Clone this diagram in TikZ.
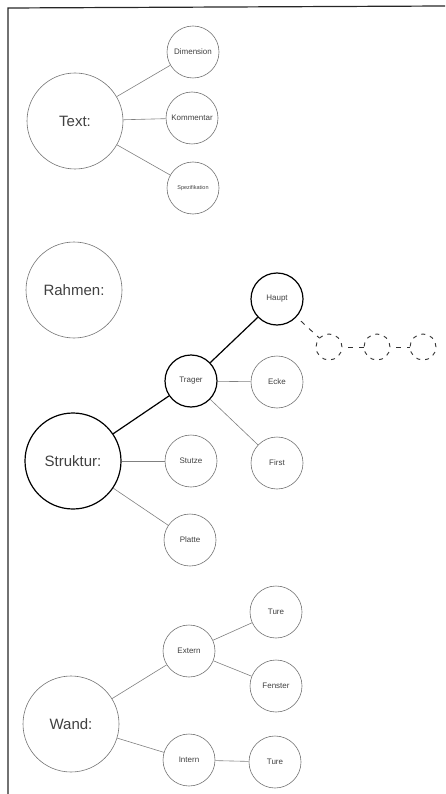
\documentclass[tikz,border=0pt]{standalone}
\usepackage{fontspec}
\setmainfont{Liberation Sans}

\begin{document}
\begin{tikzpicture}[x=1pt, y=-1pt,
  every node/.style={circle, draw=black!55, line width=0.6pt, inner sep=0pt, text=black!75},
  big/.style={minimum size=96pt, font=\fontsize{15}{18}\selectfont},
  small/.style={minimum size=52pt, font=\fontsize{8}{9}\selectfont},
  tiny/.style={minimum size=52pt, font=\fontsize{5.5}{7}\selectfont},
  bold/.style={draw=black, line width=1.2pt},
  ghost/.style={minimum size=26pt, draw=black!80, line width=0.9pt, dash pattern=on 4pt off 5pt},
  link/.style={draw=black!50, line width=0.6pt},
  boldlink/.style={draw=black, line width=1.2pt},
  ghostlink/.style={draw=black!80, line width=0.9pt, dash pattern=on 5pt off 6pt, dash phase=-6pt}]
\useasboundingbox (0,0) rectangle (445,794);

% frame
\draw[line width=1.2pt, black!85] (445,6) -- (8,8) -- (8,794);

% Text
\node[big]   (text)  at (75,121) {Text:};
\node[small] (dim)   at (193,52) {Dimension};
\node[small] (komm)  at (192,118) {Kommentar};
\node[tiny]  (spez)  at (193,188) {Spezifikation};
\draw[link] (text) -- (dim);
\draw[link] (text) -- (komm);
\draw[link] (text) -- (spez);

% Rahmen
\node[big] (rahmen) at (74,290) {Rahmen:};

% Struktur
\node[big, bold]   (strukt) at (73,461) {Struktur:};
\node[small, bold] (trager) at (191,381) {Trager};
\node[small, bold] (haupt)  at (277,299) {Haupt};
\node[small]       (ecke)   at (277,382) {Ecke};
\node[small]       (first)  at (277,463) {First};
\node[small]       (stutze) at (191,461) {Stutze};
\node[small]       (platte) at (190,540) {Platte};
\node[ghost] (g1) at (329,347) {};
\node[ghost] (g2) at (377,347) {};
\node[ghost] (g3) at (423,347) {};
\draw[boldlink] (strukt) -- (trager);
\draw[boldlink] (trager) -- (haupt);
\draw[link] (trager) -- (ecke);
\draw[link] (trager) -- (first);
\draw[link] (strukt) -- (stutze);
\draw[link] (strukt) -- (platte);
\draw[ghostlink] (haupt) -- (g1);
\draw[ghostlink] (g1) -- (g2);
\draw[ghostlink] (g2) -- (g3);

% Wand
\node[big]   (wand)    at (71,724) {Wand:};
\node[small] (extern)  at (189,651) {Extern};
\node[small] (intern)  at (189,760) {Intern};
\node[small] (ture)    at (276,612) {Ture};
\node[small] (fenster) at (276,686) {Fenster};
\node[small] (ture2)   at (275,762) {Ture};
\draw[link] (wand) -- (extern);
\draw[link] (wand) -- (intern);
\draw[link] (extern) -- (ture);
\draw[link] (extern) -- (fenster);
\draw[link] (intern) -- (ture2);
\end{tikzpicture}
\end{document}
